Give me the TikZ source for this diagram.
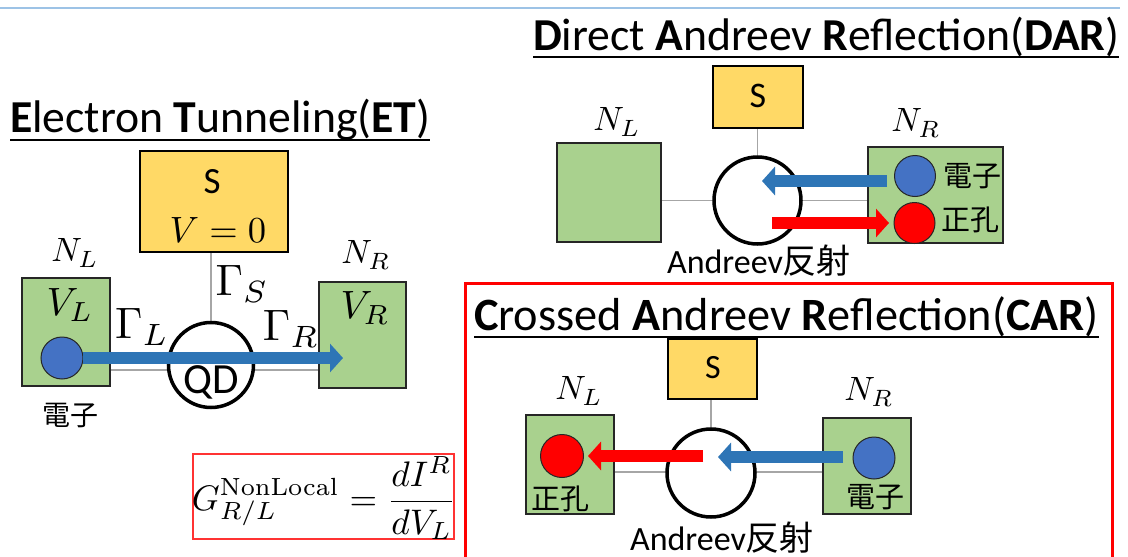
\documentclass[tikz,border=0pt]{standalone}
\usepackage{graphicx}
\usepackage[no-math]{fontspec}
\setmainfont{Carlito}
\newfontfamily\cjk{Noto Sans CJK JP}
\usetikzlibrary{arrows.meta,backgrounds}

\definecolor{sgold}{HTML}{FFD966}
\definecolor{ngreen}{HTML}{A9D18E}
\definecolor{eblue}{HTML}{4472C4}
\definecolor{ablue}{HTML}{2E75B6}
\definecolor{hred}{HTML}{FF0000}
\definecolor{wirecol}{HTML}{A6A6A6}
\definecolor{rulecol}{HTML}{9DC3E6}
\definecolor{boxred}{HTML}{FF3333}

\newcommand{\fs}[1]{\fontsize{#1}{#1}\selectfont}
\newcommand{\mth}[2]{\scalebox{#1}{$#2$}}

\begin{document}
\begin{tikzpicture}[x=1pt,y=-1pt,
  every node/.style={inner sep=0pt,outer sep=0pt},
  sbox/.style 2 args={draw=black,line width=1.8pt,fill=sgold,minimum width=#1,minimum height=#2},
  nbox/.style 2 args={draw=black!85,line width=1.8pt,fill=ngreen,minimum width=#1,minimum height=#2},
  qd/.style={circle,draw=black,line width=3.5pt,fill=white,minimum size=#1},
  particle/.style={circle,draw=black!85,line width=1pt,minimum size=#1},
  wire/.style={draw=wirecol,line width=1.5pt},
  flow/.style={line width=12pt,-{Triangle[length=13pt,width=28pt]}},
  title/.style={anchor=base west,font=\fs{#1}},
  uline/.style={line width=2.5pt},
  cjklabel/.style={font=\cjk\fs{#1}},
]
\clip (0,0) rectangle (1128,557);

% ---------- top rule ----------
\draw[rulecol,line width=2.5pt] (0,8) -- (1120,8);

% ======================= Electron Tunneling =======================
\node[title=45.7] (etT) at (10,132) {\textbf{E}lectron \textbf{T}unneling(\textbf{ET})};
\draw[uline] ([yshift=-8pt]etT.base west) -- ([yshift=-8pt]etT.base east);

\coordinate (etAxis) at (211,370);
\node[sbox={148}{101}] (etS) at (214,201.5) {};
\node[nbox={88}{108}] (etNL) at (66,332) {};
\node[nbox={87}{106}] (etNR) at (362.5,335) {};
\node[qd=85] (etQD) at (211,365) {};
\begin{scope}[on background layer]
  \fill[white] (0,0) rectangle (1128,557);
  \draw[wire] (etQD.center |- etS.south) -- (etQD.north);
  \draw[wire] (etNL.east |- etAxis) -- (etNR.west |- etAxis);
\end{scope}

\node[font=\fs{37}] (etSt) at (212,182) {S};
\node (etV0) at (218,230) {\mth{3.66}{V=0}};
\node (etNLt) at (75,253) {\mth{3.37}{N_L}};
\node (etNRt) at (366,255) {\mth{3.37}{N_R}};
\node (etVL) at (70,305) {\mth{3.95}{V_L}};
\node (etVR) at (365,308) {\mth{3.95}{V_R}};
\node (etGS) at (242,284) {\mth{4.4}{\Gamma_S}};
\node (etGL) at (142,327) {\mth{4.4}{\Gamma_L}};
\node (etGR) at (291,329) {\mth{4.4}{\Gamma_R}};
\node[font=\fs{43}] (etQDt) at (211,382) {QD};

\node[particle=42,fill=eblue] (etE) at (62,358) {};
\coordinate (etTip) at (343,358);
\draw[flow,ablue] (etE.east) -- (etTip);
\node[cjklabel=28] (etEt) at (70,415) {電子};

% ======================= Direct Andreev Reflection =======================
\node[title=45.7] (darT) at (533,50) {\textbf{D}irect \textbf{A}ndreev \textbf{R}eflection(\textbf{DAR})};
\draw[uline] ([yshift=-7pt]darT.base west) -- ([yshift=-7pt]darT.base east);

\node[sbox={90}{62}] (darS) at (758,97) {};
\node[nbox={104}{99}] (darNL) at (609,192.5) {};
\node[nbox={135}{96}] (darNR) at (935.5,195) {};
\node[qd=87] (darC) at (757.5,200.5) {};
\begin{scope}[on background layer]
  \draw[wire] (darC.center |- darS.south) -- (darC.north);
  \draw[wire] (darNL.east |- darC.center) -- (darNR.west |- darC.center);
\end{scope}

\node[font=\fs{36}] (darSt) at (758,96) {S};
\node (darNLt) at (617,122) {\mth{3.37}{N_L}};
\node (darNRt) at (916,123) {\mth{3.37}{N_R}};

\node[particle=41,fill=eblue] (darE) at (915,176) {};
\node[particle=41,fill=hred] (darH) at (914.5,223) {};
\coordinate (darBs) at (887,181);
\coordinate (darBt) at (762,181);
\coordinate (darRs) at (772,223);
\coordinate (darRt) at (889,223);
\draw[flow,ablue] (darBs) -- (darBt);
\draw[flow,hred] (darRs) -- (darRt);
\node[cjklabel=29] (darEt) at (972,176) {電子};
\node[cjklabel=29] (darHt) at (970,220) {正孔};
\node[anchor=base,font=\fs{34}] (darAR) at (759,273) {Andreev{\cjk 反射}};

% ======================= Crossed Andreev Reflection =======================
\draw[hred,line width=3pt] (465,283) rectangle (1112,590);
\node[title=46.3] (carT) at (474,330) {\textbf{C}rossed \textbf{A}ndreev \textbf{R}eflection(\textbf{CAR})};
\draw[uline] ([yshift=-7pt]carT.base west) -- ([yshift=-7pt]carT.base east);

\coordinate (carAxis) at (711,472);
\node[sbox={89}{60}] (carS) at (712.5,369) {};
\node[nbox={88}{99}] (carNL) at (570,464.5) {};
\node[nbox={88}{96}] (carNR) at (867,466) {};
\node[qd=88] (carC) at (711,473) {};
\begin{scope}[on background layer]
  \draw[wire] (carC.center |- carS.south) -- (carC.north);
  \draw[wire] (carNL.east |- carAxis) -- (carNR.west |- carAxis);
\end{scope}

\node[font=\fs{34}] (carSt) at (713,368) {S};
\node (carNLt) at (579,391) {\mth{3.37}{N_L}};
\node (carNRt) at (869,392) {\mth{3.37}{N_R}};

\node[particle=43,fill=hred] (carH) at (562,456) {};
\node[particle=42,fill=eblue] (carE) at (874,458) {};
\coordinate (carRs) at (703,456);
\coordinate (carRt) at (588,456);
\coordinate (carBs) at (843,457);
\coordinate (carBt) at (718,457);
\draw[flow,hred] (carRs) -- (carRt);
\draw[flow,ablue] (carBs) -- (carBt);
\node[cjklabel=29] (carHt) at (560,499) {正孔};
\node[cjklabel=29] (carEt) at (875,497) {電子};
\node[anchor=base,font=\fs{34}] (carAR) at (722,550) {Andreev{\cjk 反射}};

% ======================= non-local conductance =======================
\node[draw=boxred,line width=1.2pt,minimum width=261,minimum height=85] (glbox) at (323.5,496.5) {};
\node (gl) at (324,498) {\mth{3.55}{\displaystyle G^{\mathrm{NonLocal}}_{R/L}=\frac{dI^R}{dV_L}}};
\end{tikzpicture}
\end{document}
